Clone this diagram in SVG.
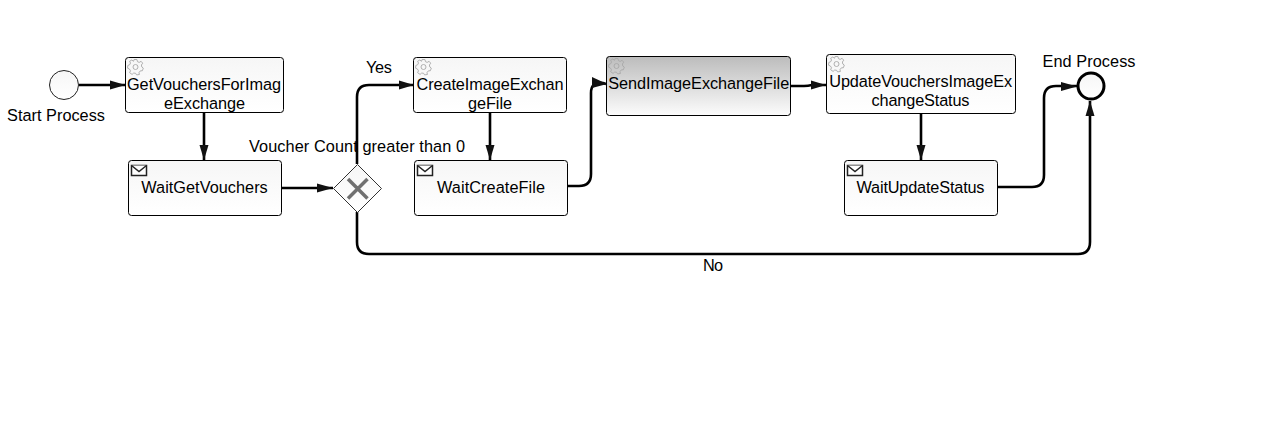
<svg xmlns="http://www.w3.org/2000/svg" width="1262" height="445" viewBox="0 0 1262 445">
<style>
text{font-family:"Liberation Sans",Arial,sans-serif;font-size:16.3px;fill:#000;text-anchor:middle}
.task{stroke:#000;stroke-width:1;fill:url(#g)}
.conn{fill:none;stroke:#000;stroke-width:2.600}
.head{fill:#111;stroke:none}
.gear{fill:none;stroke:#a8a8a8;stroke-width:0.900}
.env{fill:#fff;stroke:#222;stroke-width:1.500}
</style>
<defs>
<linearGradient id="g" x1="0" y1="0" x2="0" y2="1"><stop offset="0" stop-color="#f6f6f6"/><stop offset="1" stop-color="#fff"/></linearGradient>
<linearGradient id="gs" x1="0" y1="0" x2="0" y2="1"><stop offset="0" stop-color="#bcbcbc"/><stop offset="1" stop-color="#fcfcfc"/></linearGradient>
<g id="gear"><circle class="gear" r="2.500"/><path class="gear" d="M-1.400-7.500H1.400L2-5.300 3.700-4.600 5.600-5.700 7.200-3.800 5.900-2 6.300 0 7.800 1.100 6.900 3.700 4.800 3.900 3.500 5.600 3.900 7.500 1.100 7.900 0 6.200-1.900 6.100-3.400 7.400-5.900 5.700-5 3.800-6.100 2-7.900 1.200-7.700-1.500-5.800-2.300-5-4-5.900-5.700-3.700-7-2-5.700Z"/></g>
<g id="env"><rect class="env" x="0" y="0" width="15" height="10"/><path class="env" d="M0 0L7.500 6 15 0" fill="none"/></g>
</defs>
<g id="connectors">
<path class="conn" d="M79 85H125"/><path class="head" d="M110 80.500L125.500 85 110 89.500Z"/>
<path class="conn" d="M204 112V160"/><path class="head" d="M199.500 145H208.500L204 160Z"/>
<path class="conn" d="M282 188H333"/><path class="head" d="M317 183.500L333 188 317 192.500Z"/>
<path class="conn" d="M357 164V97Q357 85 369 85H414"/><path class="head" d="M399 80.500L414 85 399 89.500Z"/>
<path class="conn" d="M490 112V160"/><path class="head" d="M485.500 145H494.500L490 160Z"/>
<path class="conn" d="M568 186H579Q591 186 591 174V93Q591 81 603 83L606 84"/><path class="head" d="M592 77L607 84 592 88Z"/>
<path class="conn" d="M791 86H804Q808 86 812 85H826"/><path class="head" d="M811 80.500L826 85 811 89.500Z"/>
<path class="conn" d="M921 113V160"/><path class="head" d="M916.500 145H925.500L921 160Z"/>
<path class="conn" d="M998 187H1032Q1044 187 1044 175V98Q1044 86 1056 86H1077"/><path class="head" d="M1061 82L1077 86.500 1061 91Z"/>
<path class="conn" d="M357 212V242Q357 254 369 254H1078Q1090 254 1090 242V101"/><path class="head" d="M1085.500 116L1090 101 1094.500 116Z"/>
</g>
<g id="start"><circle cx="64" cy="85" r="14.500" fill="url(#g)" stroke="#222" stroke-width="1"/><text x="56" y="121" textLength="98">Start Process</text></g>
<g id="task-get"><rect class="task" x="125.500" y="57.500" width="158" height="55" rx="3"/><use href="#gear" x="135.500" y="67"/><text x="204" y="90" textLength="154">GetVouchersForImag</text><text x="204.500" y="109" textLength="81">eExchange</text></g>
<g id="task-wait-get"><rect class="task" x="128.500" y="160.500" width="153" height="55" rx="3"/><use href="#env" x="131.500" y="165.500"/><text x="204.500" y="193" textLength="126.500">WaitGetVouchers</text></g>
<g id="gateway"><path d="M357.500 164.500L381.500 188.500 357.500 212.500 333.500 188.500Z" fill="url(#g)" stroke="#333" stroke-width="1"/><path d="M348 179L367.500 198.500M367.500 179L348 198.500" stroke="#707070" stroke-width="3.500" fill="none"/><text x="357" y="152" textLength="216">Voucher Count greater than 0</text></g>
<g id="label-yes"><text x="379" y="73" textLength="26">Yes</text></g>
<g id="task-create"><rect class="task" x="413.500" y="57.500" width="153" height="55" rx="3"/><use href="#gear" x="423.500" y="67"/><text x="490" y="90" textLength="147">CreateImageExchan</text><text x="490" y="109" textLength="44">geFile</text></g>
<g id="task-wait-create"><rect class="task" x="414.500" y="160.500" width="153" height="55" rx="3"/><use href="#env" x="417.500" y="165.500"/><text x="491" y="193" textLength="108">WaitCreateFile</text></g>
<g id="task-send"><rect x="606.500" y="56.500" width="184" height="59" rx="3" fill="url(#gs)" stroke="#000"/><use href="#gear" x="616.500" y="66"/><text x="698.700" y="89" textLength="181">SendImageExchangeFile</text></g>
<g id="task-update"><rect class="task" x="826.500" y="54.500" width="189" height="59" rx="3"/><use href="#gear" x="836.500" y="64"/><text x="920.700" y="87" textLength="183">UpdateVouchersImageEx</text><text x="920.500" y="106" textLength="98">changeStatus</text></g>
<g id="task-wait-update"><rect class="task" x="844.500" y="160.500" width="153" height="55" rx="3"/><use href="#env" x="847.500" y="165.500"/><text x="920.500" y="193" textLength="128">WaitUpdateStatus</text></g>
<g id="end"><circle cx="1091" cy="86" r="13" fill="url(#g)" stroke="#000" stroke-width="3"/><text x="1089" y="67" textLength="93">End Process</text></g>
<g id="label-no"><text x="713" y="271" textLength="20">No</text></g>
</svg>
